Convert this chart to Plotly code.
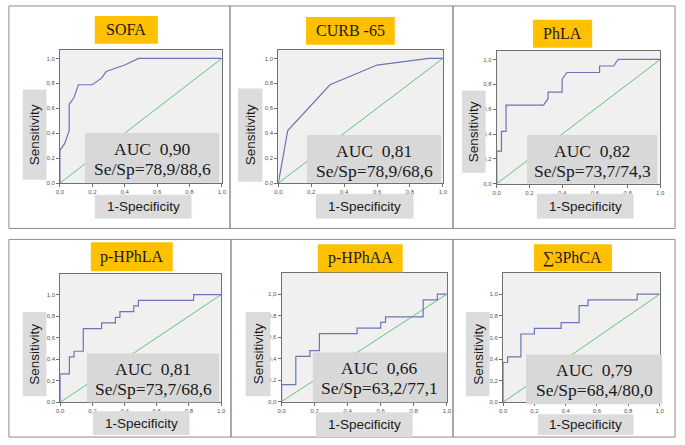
import plotly.graph_objects as go

W, H = 685, 445

# ---------------- data ----------------
titles = ["SOFA", "CURB -65", "PhLA", "p-HPhLA", "p-HPhAA", "\u22113PhCA"]
auc_values = ["0,90", "0,81", "0,82", "0,81", "0,66", "0,79"]
se_sp = ["78,9/88,6", "78,9/68,6", "73,7/74,3", "73,7/68,6", "63,2/77,1", "68,4/80,0"]

sofa_fpr = [0, 0, 0.029, 0.057, 0.057, 0.086, 0.114, 0.2, 0.257, 0.286, 0.4, 0.486, 1.0]
sofa_tpr = [0, 0.263, 0.316, 0.421, 0.632, 0.684, 0.789, 0.789, 0.842, 0.895, 0.947, 1.0, 1.0]

curb_fpr = [0, 0.057, 0.314, 0.6, 0.914, 1.0]
curb_tpr = [0, 0.421, 0.789, 0.947, 1.0, 1.0]

phla_fpr = [0, 0, 0.029, 0.029, 0.057, 0.057, 0.286, 0.314, 0.314, 0.4, 0.4, 0.429, 0.629, 0.629, 0.714, 0.743, 1.0]
phla_tpr = [0, 0.263, 0.263, 0.421, 0.421, 0.632, 0.632, 0.684, 0.737, 0.737, 0.842, 0.895, 0.895, 0.947, 0.947, 1.0, 1.0]

phpla_fpr = [0, 0, 0.057, 0.057, 0.086, 0.086, 0.143, 0.143, 0.257, 0.257, 0.343, 0.343, 0.371, 0.371, 0.457, 0.457, 0.486, 0.486, 0.829, 0.829, 1.0]
phpla_tpr = [0, 0.263, 0.263, 0.421, 0.421, 0.474, 0.474, 0.684, 0.684, 0.737, 0.737, 0.789, 0.789, 0.842, 0.842, 0.895, 0.895, 0.947, 0.947, 1.0, 1.0]

phpaa_fpr = [0, 0, 0.086, 0.086, 0.171, 0.171, 0.229, 0.229, 0.457, 0.457, 0.6, 0.6, 0.629, 0.629, 0.857, 0.857, 0.943, 0.943, 1.0]
phpaa_tpr = [0, 0.158, 0.158, 0.421, 0.421, 0.474, 0.474, 0.632, 0.632, 0.684, 0.684, 0.737, 0.737, 0.789, 0.789, 0.947, 0.947, 1.0, 1.0]

sum3_fpr = [0, 0, 0.029, 0.029, 0.114, 0.114, 0.2, 0.2, 0.371, 0.371, 0.486, 0.486, 0.543, 0.543, 0.857, 0.857, 1.0]
sum3_tpr = [0, 0.368, 0.368, 0.421, 0.421, 0.632, 0.632, 0.684, 0.684, 0.737, 0.737, 0.895, 0.895, 0.947, 0.947, 1.0, 1.0]

ref_line = [0, 1]
tick_vals = [0, 0.2, 0.4, 0.6, 0.8, 1.0]
tick_text = ["0,0", "0,2", "0,4", "0,6", "0,8", "1,0"]

curves = [(sofa_fpr, sofa_tpr), (curb_fpr, curb_tpr), (phla_fpr, phla_tpr),
          (phpla_fpr, phpla_tpr), (phpaa_fpr, phpaa_tpr), (sum3_fpr, sum3_tpr)]

# ---------------- layout (pixel positions) ----------------
frames = [(5, 6, 229, 230), (229, 6, 455, 230), (455, 6, 680, 230),
          (5, 241, 230, 440), (230, 241, 455, 440), (455, 241, 680, 440)]
plot_px = [(56.7, 50.7, 220.7, 184.3), (278, 50.7, 444.7, 184.3), (499.3, 51.7, 665, 185),
           (57, 275.5, 220, 405), (281.3, 275, 448.7, 404.3), (505.7, 275, 664.3, 405)]
yr_top = [1.065, 1.065, 1.065, 1.195, 1.195, 1.195]
title_px = [(92, 16, 156, 44), (306, 17, 396, 45), (536, 20, 596, 48),
            (88, 244, 171, 273), (318, 246, 404, 274), (537, 246, 616, 273)]
sens_px = [(19, 90, 43, 181), (237, 89, 262, 183), (464, 91, 488, 174),
           (19, 314, 43, 399), (245, 314, 270, 399), (468, 314, 492, 399)]
auc_px = [(82, 134, 218, 184), (307, 136, 443, 184), (530, 136, 662, 185),
          (84, 356, 218, 405), (313, 355, 449, 405), (529, 357, 667, 407)]
spec_px = [(92, 196, 190, 220), (316, 195, 415, 220), (540, 195, 638, 220),
           (90, 414, 188, 438), (316, 415, 414, 440), (541, 417, 638, 438)]


def px(x):
    return x / W


def py(y):
    return 1 - y / H


CURVE_COL = "#6d74b4"
DIAG_COL = "#66c07a"
ORANGE = "#FFC000"
GRAY_BOX = "#d8d8d8"
SERIF = "Liberation Serif, Times New Roman, serif"
SANS = "Liberation Sans, Arial, sans-serif"

fig = go.Figure()
shapes = []
annotations = []

for i in range(6):
    ax = "" if i == 0 else str(i + 1)
    x0, y0, x1, y1 = plot_px[i]
    fx, fy = curves[i]
    fig.add_trace(go.Scatter(x=ref_line, y=ref_line, mode="lines",
                             line=dict(color=DIAG_COL, width=1),
                             xaxis="x" + ax, yaxis="y" + ax, showlegend=False, hoverinfo="skip"))
    fig.add_trace(go.Scatter(x=fx, y=fy, mode="lines",
                             line=dict(color=CURVE_COL, width=1.2),
                             xaxis="x" + ax, yaxis="y" + ax, showlegend=False))
    common = dict(showgrid=False, zeroline=False, showline=True, mirror=True,
                  linecolor="#707070", linewidth=1, ticks="outside", ticklen=3,
                  tickcolor="#707070", tickwidth=1,
                  tickfont=dict(family=SANS, size=6, color="#555555"),
                  tickvals=tick_vals, ticktext=tick_text, fixedrange=True)
    fig.update_layout(**{
        "xaxis" + ax: dict(domain=[px(x0), px(x1)], range=[0, 1.0],
                           anchor="y" + ax, **common),
        "yaxis" + ax: dict(domain=[py(y1), py(y0)], range=[0, yr_top[i]],
                           anchor="x" + ax, **common),
    })
    shapes.append(dict(type="rect", xref="paper", yref="paper", layer="below",
                       x0=px(x0), x1=px(x1), y0=py(y1), y1=py(y0),
                       fillcolor="#f0f0f0", line=dict(width=0)))
    a, b, c, d = frames[i]
    shapes.append(dict(type="rect", xref="paper", yref="paper", layer="below",
                       x0=px(a), x1=px(c), y0=py(d), y1=py(b),
                       fillcolor="rgba(0,0,0,0)", line=dict(color="#8c8c8c", width=1)))
    a, b, c, d = title_px[i]
    shapes.append(dict(type="rect", xref="paper", yref="paper", layer="above",
                       x0=px(a), x1=px(c), y0=py(d), y1=py(b),
                       fillcolor=ORANGE, line=dict(width=0)))
    annotations.append(dict(x=px((a + c) / 2), y=py((b + d) / 2), xref="paper", yref="paper",
                            text=titles[i], showarrow=False,
                            font=dict(family=SERIF, size=16, color="#1a1a1a"),
                            xanchor="center", yanchor="middle"))
    a, b, c, d = sens_px[i]
    shapes.append(dict(type="rect", xref="paper", yref="paper", layer="above",
                       x0=px(a), x1=px(c), y0=py(d), y1=py(b),
                       fillcolor="#dcdcdc", line=dict(width=0)))
    annotations.append(dict(x=px((a + c) / 2), y=py((b + d) / 2), xref="paper", yref="paper",
                            text="Sensitivity", showarrow=False, textangle=-90,
                            font=dict(family=SANS, size=13.5, color="#1a1a1a"),
                            xanchor="center", yanchor="middle"))
    a, b, c, d = spec_px[i]
    shapes.append(dict(type="rect", xref="paper", yref="paper", layer="above",
                       x0=px(a), x1=px(c), y0=py(d), y1=py(b),
                       fillcolor="#dcdcdc", line=dict(width=0)))
    annotations.append(dict(x=px((a + c) / 2), y=py((b + d) / 2), xref="paper", yref="paper",
                            text="1-Specificity", showarrow=False,
                            font=dict(family=SANS, size=13.5, color="#1a1a1a"),
                            xanchor="center", yanchor="middle"))
    a, b, c, d = auc_px[i]
    shapes.append(dict(type="rect", xref="paper", yref="paper", layer="above",
                       x0=px(a), x1=px(c), y0=py(d), y1=py(b),
                       fillcolor=GRAY_BOX, line=dict(width=0)))
    cx = px((a + c) / 2)
    annotations.append(dict(x=cx, y=py(b + 16), xref="paper", yref="paper",
                            text="AUC\u00a0 " + auc_values[i], showarrow=False,
                            font=dict(family=SERIF, size=17.5, color="#1a1a1a"),
                            xanchor="center", yanchor="middle"))
    annotations.append(dict(x=cx, y=py(b + 36), xref="paper", yref="paper",
                            text="Se/Sp=" + se_sp[i], showarrow=False,
                            font=dict(family=SERIF, size=17.5, color="#1a1a1a"),
                            xanchor="center", yanchor="middle"))

fig.update_layout(width=W, height=H, autosize=False,
                  margin=dict(l=0, r=0, t=0, b=0),
                  paper_bgcolor="white", plot_bgcolor="#f0f0f0",
                  shapes=shapes, annotations=annotations)

fig.write_html("out.html", config={"displayModeBar": False},
               post_script="document.body.style.margin='0';document.body.style.overflow='hidden';")
